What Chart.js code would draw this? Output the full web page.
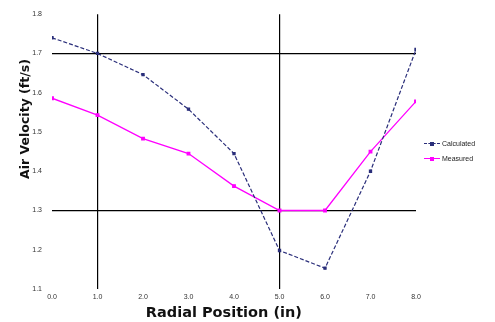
<!DOCTYPE html>
<html><head><meta charset="utf-8">
<script src="https://cdn.jsdelivr.net/npm/chart.js@4/dist/chart.umd.min.js"></script>
<style>
html,body{margin:0;padding:0;background:#fff;}
#wrap{position:relative;width:495px;height:322px;}
#legend{position:absolute;left:424px;top:136px;font-family:"Liberation Sans",Arial,sans-serif;font-size:7px;color:#222;line-height:15px;}
#legend .it{display:flex;align-items:center;height:15px;}
#legend .sw{position:relative;width:16px;height:8px;margin-right:2px;}
</style></head>
<body>
<div id="wrap"><canvas id="c" width="495" height="322"></canvas><div id="legend"></div></div>
<script>
const positions = [0, 1, 2, 3, 4, 5, 6, 7, 8];
const calculated = [1.74, 1.70, 1.646, 1.558, 1.445, 1.198, 1.153, 1.40, 1.71];
const measured = [1.586, 1.543, 1.483, 1.445, 1.362, 1.30, 1.30, 1.45, 1.578];
const seriesNames = ["Calculated", "Measured"];
const xTicks = [0, 1, 2, 3, 4, 5, 6, 7, 8];
const yTicks = [1.1, 1.2, 1.3, 1.4, 1.5, 1.6, 1.7, 1.8];
const xGridAt = [1, 5];
const yGridAt = [1.3, 1.7];

const pts = (arr) => positions.map((x, i) => ({x: x, y: arr[i]}));
const near = (v, list) => list.some(g => Math.abs(g - v) < 1e-6);

const chart = new Chart(document.getElementById('c'), {
  type: 'line',
  data: {datasets: [
    {label: seriesNames[0], data: pts(calculated), borderColor: '#2a2e7a', backgroundColor: '#2a2e7a',
     borderWidth: 1.2, borderDash: [4, 2], pointRadius: 1.5, pointStyle: 'rect', tension: 0},
    {label: seriesNames[1], data: pts(measured), borderColor: '#ff00ff', backgroundColor: '#ff00ff',
     borderWidth: 1.3, pointRadius: 1.8, pointStyle: 'rect', tension: 0}
  ]},
  options: {
    responsive: false, animation: false,
    layout: {padding: {left: 0, right: 79, top: 11, bottom: 0}},
    plugins: {legend: {display: false}, tooltip: {enabled: false}},
    scales: {
      x: {type: 'linear', min: 0, max: 8,
        afterBuildTicks: s => { s.ticks = xTicks.map(v => ({value: v})); },
        afterFit: s => { s.height = 33; },
        border: {display: false},
        grid: {color: c => near(c.tick.value, xGridAt) ? '#000' : 'rgba(0,0,0,0)', lineWidth: 1.2,
               drawTicks: false},
        ticks: {padding: 4, color: '#333', font: {family: 'Liberation Sans', size: 7}, maxRotation: 0,
                callback: v => v.toFixed(1)},
        title: {display: true, text: 'Radial Position (in)' + '    ', color: '#111', padding: {top: 1, bottom: 0},
                font: {family: 'DejaVu Sans', size: 14.5, weight: 'bold'}}
      },
      y: {min: 1.1, max: 1.8,
        afterBuildTicks: s => { s.ticks = yTicks.map(v => ({value: v})); },
        afterFit: s => { s.width = 52; },
        border: {display: false},
        grid: {color: c => near(c.tick.value, yGridAt) ? '#000' : 'rgba(0,0,0,0)', lineWidth: 1.2,
               drawTicks: false},
        ticks: {padding: 10, color: '#333', font: {family: 'Liberation Sans', size: 7},
                callback: v => v.toFixed(1)},
        title: {display: true, text: '               ' + 'Air Velocity (ft/s)', color: '#111',
                padding: {top: 18, bottom: 0},
                font: {family: 'DejaVu Sans', size: 12.5, weight: 'bold'}}
      }
    }
  }
});

// HTML legend built from the chart's datasets
const lg = document.getElementById('legend');
chart.data.datasets.forEach(ds => {
  const it = document.createElement('div'); it.className = 'it';
  const sw = document.createElement('span'); sw.className = 'sw';
  const line = document.createElement('span');
  line.style.cssText = 'position:absolute;left:0;top:3.5px;width:16px;height:0;border-top:1.3px ' +
    (ds.borderDash ? 'dashed ' : 'solid ') + ds.borderColor;
  const mk = document.createElement('span');
  mk.style.cssText = 'position:absolute;left:6px;top:2px;width:4px;height:4px;background:' + ds.borderColor;
  sw.appendChild(line); sw.appendChild(mk);
  const tx = document.createElement('span'); tx.textContent = ds.label;
  it.appendChild(sw); it.appendChild(tx); lg.appendChild(it);
});
</script>
</body></html>
